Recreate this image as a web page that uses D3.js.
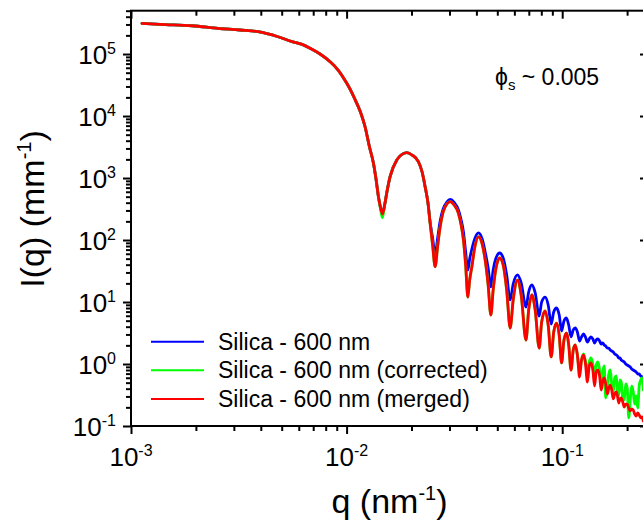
<!DOCTYPE html>
<html>
<head>
<meta charset="utf-8">
<script src="https://cdn.jsdelivr.net/npm/d3@7"></script>
<style>
  html, body { margin: 0; padding: 0; background: #fff; }
  svg { display: block; font-family: "Liberation Sans", Arial, sans-serif; }
</style>
</head>
<body>
<script>
// ---------------- DATA ----------------
const qValues = [
  0.001125, 0.001363, 0.001919, 0.002533, 0.003204, 0.003884, 0.004809, 0.005587, 0.006216, 0.006771,
  0.007534, 0.008384, 0.009133, 0.01002, 0.01060, 0.01115, 0.01168, 0.01218, 0.01276, 0.01332,
  0.01371, 0.01405, 0.01438, 0.01466, 0.01501, 0.01541, 0.01591, 0.01709, 0.01790, 0.01903,
  0.02013, 0.02154, 0.02240, 0.02313, 0.02388, 0.02440, 0.02506, 0.02574, 0.02644, 0.02716,
  0.02804, 0.02917, 0.03022, 0.03154, 0.03302, 0.03399, 0.03483, 0.03566, 0.03651, 0.03722,
  0.03811, 0.03926, 0.04089, 0.04254, 0.04393, 0.04535, 0.04667, 0.04784, 0.04913, 0.05129,
  0.05324, 0.05527, 0.05737, 0.05924, 0.06203, 0.06452, 0.06792, 0.06990, 0.07234, 0.07494,
  0.07819, 0.08031, 0.08336, 0.08610, 0.08892, 0.09133, 0.09408, 0.09685, 0.09936, 0.1019,
  0.1046, 0.1072, 0.1099, 0.1125, 0.1149, 0.1176, 0.1204, 0.1229, 0.1256, 0.1281,
  0.1309, 0.1335, 0.1360, 0.1387, 0.1413, 0.1438, 0.1464, 0.1491, 0.1517, 0.1541,
  0.1566, 0.1591, 0.1621, 0.1645, 0.1670, 0.1697, 0.1725, 0.1752, 0.1781, 0.1804,
  0.1829, 0.1854, 0.1878, 0.1909, 0.1940, 0.1971, 0.2003, 0.2035, 0.2068, 0.2101,
  0.2135, 0.2169, 0.2204, 0.2240, 0.2276, 0.2313, 0.2350, 0.2376
];

// Silica - 600 nm
const blueValues = [
  3.13e5, 3.01e5, 2.86e5, 2.60e5, 2.44e5, 2.29e5, 1.90e5, 1.59e5, 1.43e5, 1.24e5,
  1.00e5, 7.51e4, 5.52e4, 3.37e4, 2.35e4, 1.60e4, 1.08e4, 6720, 3200, 1730,
  929, 499, 328, 263, 367, 617, 1050, 1950, 2350, 2560,
  2350, 1830, 1250, 724, 381, 195, 108, 57.3, 108, 203,
  316, 410, 450, 403, 305, 210, 135, 64.1, 32.8, 49.4,
  71.6, 104, 130, 104, 64.1, 35.4, 17.5, 32.8, 49.4, 61.7,
  51.3, 27.3, 10.8, 19.5, 27.3, 20.3, 8.31, 14.5, 18.8, 14.0,
  5.95, 10.0, 12.0, 8.95, 4.42, 6.90, 8.00, 6.17, 3.41, 4.94,
  5.52, 4.26, 2.73, 3.54, 3.81, 3.28, 2.35, 2.73, 3.05, 2.73,
  2.26, 2.53, 2.73, 2.53, 2.18, 2.44, 2.53, 2.35, 2.10, 2.18,
  2.03, 1.95, 1.81, 1.81, 1.68, 1.62, 1.56, 1.45, 1.40, 1.35,
  1.25, 1.25, 1.16, 1.12, 1.08, 1.00, 0.964, 0.928, 0.895, 0.831,
  0.800, 0.771, 0.743, 0.690, 0.690, 0.640, 0.617, 0.617
];

// Silica - 600 nm (corrected)
const greenValues = [
  3.13e5, 3.01e5, 2.86e5, 2.60e5, 2.44e5, 2.29e5, 1.90e5, 1.59e5, 1.43e5, 1.24e5,
  1.00e5, 7.51e4, 5.52e4, 3.37e4, 2.35e4, 1.60e4, 1.08e4, 6720, 3200, 1730,
  929, 499, 310, 229, 367, 617, 1050, 1950, 2350, 2560,
  2350, 1830, 1250, 724, 381, 186, 83.1, 37.1, 80.0, 164,
  283, 381, 415, 367, 270, 175, 100, 39.5, 12.0, 22.6,
  37.1, 74.3, 112, 86.2, 47.6, 18.8, 6.17, 15.6, 32.8, 51.3,
  39.5, 15.6, 3.81, 10.8, 22.6, 13.0, 2.44, 7.43, 13.0, 7.43,
  1.81, 4.76, 7.16, 4.26, 1.30, 3.28, 4.58, 2.94, 1.04, 2.44,
  3.16, 2.03, 0.800, 1.68, 2.03, 1.40, 0.743, 1.16, 1.45, 1.12,
  0.743, 1.08, 1.25, 1.00, 0.640, 0.964, 1.08, 0.800, 0.513, 0.743,
  0.928, 0.283, 0.442, 0.690, 0.800, 0.476, 0.354, 0.595, 0.640, 0.381,
  0.305, 0.552, 0.513, 0.283, 0.263, 0.476, 0.410, 0.135, 0.263, 0.442,
  0.354, 0.226, 0.305, 0.195, 0.442, 0.552, 0.595, 0.381
];

// Silica - 600 nm (merged)
const redValues = [
  3.13e5, 3.01e5, 2.86e5, 2.60e5, 2.44e5, 2.29e5, 1.90e5, 1.59e5, 1.43e5, 1.24e5,
  1.00e5, 7.51e4, 5.52e4, 3.37e4, 2.35e4, 1.60e4, 1.08e4, 6720, 3200, 1730,
  929, 499, 328, 263, 367, 617, 1050, 1950, 2350, 2560,
  2350, 1830, 1250, 724, 381, 186, 83.1, 37.1, 80.0, 164,
  283, 381, 415, 367, 270, 175, 100, 39.5, 12.0, 22.6,
  37.1, 74.3, 112, 86.2, 47.6, 18.8, 6.17, 15.6, 32.8, 51.3,
  39.5, 15.6, 3.81, 10.8, 22.6, 13.0, 2.44, 7.43, 13.0, 7.43,
  1.81, 4.76, 7.16, 4.26, 1.30, 3.28, 4.58, 2.94, 1.04, 2.44,
  3.16, 2.03, 0.800, 1.68, 2.03, 1.40, 0.617, 1.16, 1.40, 1.04,
  0.513, 0.928, 1.04, 0.800, 0.442, 0.743, 0.800, 0.640, 0.381, 0.513,
  0.595, 0.476, 0.328, 0.410, 0.458, 0.381, 0.273, 0.328, 0.354, 0.305,
  0.235, 0.273, 0.283, 0.244, 0.202, 0.226, 0.226, 0.195, 0.175, 0.188,
  0.181, 0.156, 0.145, 0.162, 0.150, 0.135, 0.140, 0.120
];

const seriesNames = ["Silica - 600 nm", "Silica - 600 nm (corrected)", "Silica - 600 nm (merged)"];
const seriesColors = ["#0000ff", "#00ff00", "#ff0000"];
const xDomain = [1e-3, 0.25];
const yDomain = [0.1, 5e5];
const xTickExponents = ["-3", "-2", "-1"];
const yTickExponents = ["-1", "0", "1", "2", "3", "4", "5"];
const annotationValue = "0.005";

// ---------------- CHART ----------------
const W = 643, H = 525;
const L = 131, R = 648, T = 10.7, B = 426;
const FONT = '"Liberation Sans", Arial, sans-serif';

const svg = d3.select("body").append("svg").attr("width", W).attr("height", H);
svg.append("rect").attr("width", W).attr("height", H).attr("fill", "#fff");

const x = d3.scaleLog().domain(xDomain).range([L, R]);
const y = d3.scaleLog().domain(yDomain).range([B, T]);

const majorX = xTickExponents.map(e => Math.pow(10, +e));
const minorX = x.ticks().filter(v => !majorX.some(m => Math.abs(v / m - 1) < 1e-6));
const majorY = yTickExponents.map(e => Math.pow(10, +e));
const minorY = y.ticks().filter(v => !majorY.some(m => Math.abs(v / m - 1) < 1e-6));

// clip
svg.append("defs").append("clipPath").attr("id", "plotclip")
  .append("rect").attr("x", L).attr("y", T).attr("width", R - L).attr("height", B - T);

// data lines
const seriesData = [blueValues, greenValues, redValues].map(vals => qValues.map((q, i) => ({ q, v: vals[i] })));
const line = d3.line().x(d => x(d.q)).y(d => y(d.v)).curve(d3.curveMonotoneX);
const plot = svg.append("g").attr("clip-path", "url(#plotclip)");
seriesData.forEach((s, i) => {
  plot.append("path").datum(s).attr("d", line)
    .attr("fill", "none").attr("stroke", seriesColors[i])
    .attr("stroke-width", 2.8).attr("stroke-linejoin", "round").attr("stroke-linecap", "round");
});

// axes
function addAxis(axis, transform) {
  const g = svg.append("g").attr("transform", transform).call(axis);
  g.select(".domain").remove();
  g.selectAll("line").attr("stroke", "#000").attr("stroke-width", 2);
  g.selectAll("text").remove();
  return g;
}
addAxis(d3.axisBottom(x).tickValues(majorX).tickSize(8).tickFormat(""), `translate(0,${B})`);
addAxis(d3.axisBottom(x).tickValues(minorX).tickSize(5).tickFormat(""), `translate(0,${B})`);
addAxis(d3.axisTop(x).tickValues(majorX).tickSize(-8).tickFormat(""), `translate(0,${T})`);
addAxis(d3.axisTop(x).tickValues(minorX).tickSize(-5).tickFormat(""), `translate(0,${T})`);
addAxis(d3.axisLeft(y).tickValues(majorY).tickSize(8).tickFormat(""), `translate(${L},0)`);
addAxis(d3.axisLeft(y).tickValues(minorY).tickSize(5).tickFormat(""), `translate(${L},0)`);
addAxis(d3.axisRight(y).tickValues(majorY).tickSize(-8).tickFormat(""), `translate(${R},0)`);
addAxis(d3.axisRight(y).tickValues(minorY).tickSize(-5).tickFormat(""), `translate(${R},0)`);

// frame
svg.append("rect").attr("x", L).attr("y", T).attr("width", R - L).attr("height", B - T)
  .attr("fill", "none").attr("stroke", "#000").attr("stroke-width", 2);

// tick labels
xTickExponents.forEach(e => {
  const t = svg.append("text").attr("x", x(Math.pow(10, +e))).attr("y", 466)
    .attr("text-anchor", "middle").attr("font-size", 26).attr("font-family", FONT).attr("fill", "#000");
  t.append("tspan").text("10");
  t.append("tspan").attr("dy", -10).attr("font-size", 16).text(e);
});
yTickExponents.forEach(e => {
  const t = svg.append("text").attr("x", 116).attr("y", y(Math.pow(10, +e)) + 10)
    .attr("text-anchor", "end").attr("font-size", 26).attr("font-family", FONT).attr("fill", "#000");
  t.append("tspan").text("10");
  t.append("tspan").attr("dy", -10).attr("font-size", 16).text(e);
});

// axis titles
const xt = svg.append("text").attr("x", (L + R) / 2).attr("y", 513).attr("text-anchor", "middle")
  .attr("font-size", 34).attr("font-family", FONT).attr("fill", "#000");
xt.append("tspan").text("q (nm");
xt.append("tspan").attr("dy", -13).attr("font-size", 20).text("-1");
xt.append("tspan").attr("dy", 13).text(")");

const yt = svg.append("text").attr("transform", "translate(44,209) rotate(-90)").attr("text-anchor", "middle")
  .attr("font-size", 34).attr("font-family", FONT).attr("fill", "#000");
yt.append("tspan").text("I(q) (mm");
yt.append("tspan").attr("dy", -13).attr("font-size", 20).text("-1");
yt.append("tspan").attr("dy", 13).text(")");

// legend
const legendY = [341.7, 370.3, 399];
seriesNames.forEach((name, i) => {
  svg.append("line").attr("x1", 151).attr("x2", 204).attr("y1", legendY[i]).attr("y2", legendY[i])
    .attr("stroke", seriesColors[i]).attr("stroke-width", 2);
  svg.append("text").attr("x", 218).attr("y", legendY[i] + 8).attr("font-size", 23)
    .attr("font-family", FONT).attr("fill", "#000").text(name);
});

// annotation
const an = svg.append("text").attr("x", 495).attr("y", 85).attr("font-size", 23)
  .attr("font-family", FONT).attr("fill", "#000");
an.append("tspan").text("\u03D5");
an.append("tspan").attr("dy", 5).attr("font-size", 15).text("s");
an.append("tspan").attr("dy", -5).text(" ~ " + annotationValue);
</script>
</body>
</html>
